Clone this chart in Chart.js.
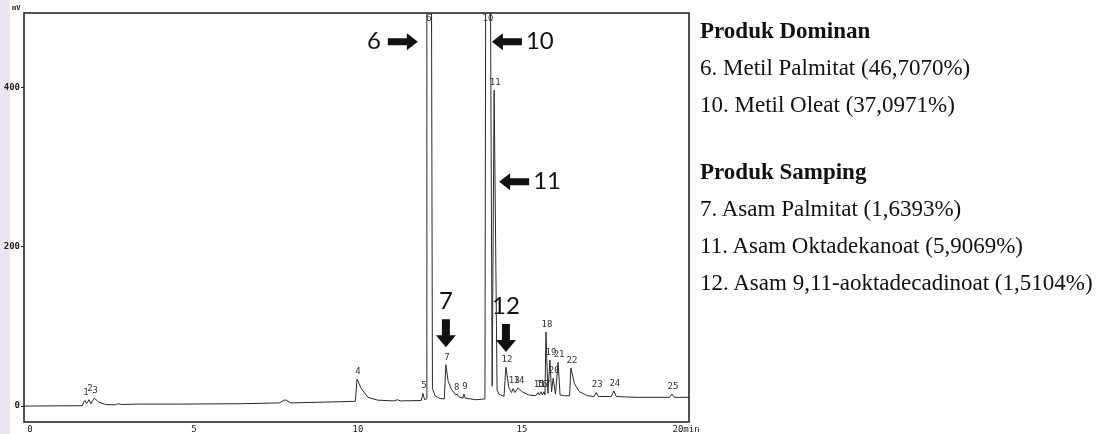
<!DOCTYPE html>
<html>
<head>
<meta charset="utf-8">
<script src="https://cdn.jsdelivr.net/npm/chart.js@4.4.1/dist/chart.umd.min.js"></script>
<style>
    html, body { margin: 0; padding: 0; background: #fff; }
    body { width: 1107px; height: 434px; position: relative; overflow: hidden; }
    #strip { position: absolute; left: 0; top: 0; width: 10px; height: 434px; background: #ebe5f0; }
    #chart-box { position: absolute; left: 0; top: 0; width: 705px; height: 434px; }
    #legend-text {
        position: absolute; left: 700px; top: 12px;
        font-family: "Liberation Serif", "DejaVu Serif", serif;
        font-size: 23px; line-height: 37px; color: #111; white-space: nowrap;
    }
    #legend-text b { font-weight: bold; }
    #legend-text .gap { height: 30px; }
</style>
</head>
<body>
<div id="strip"></div>
<div id="chart-box"><canvas id="gcChart"></canvas></div>
<div id="legend-text">
    <div><b>Produk Dominan</b></div>
    <div>6. Metil Palmitat (46,7070%)</div>
    <div>10. Metil Oleat (37,0971%)</div>
    <div class="gap"></div>
    <div><b>Produk Samping</b></div>
    <div>7. Asam Palmitat (1,6393%)</div>
    <div>11. Asam Oktadekanoat (5,9069%)</div>
    <div>12. Asam 9,11-aoktadecadinoat (1,5104%)</div>
</div>

<script>
// 波形（読み取り値）: 時間 [min] と 信号 [mV]
const traceTime = [
    -0.18, 1.6, 1.64, 1.68, 1.73, 1.8, 1.86, 1.96, 2.1, 2.3, 2.6, 2.68, 2.8, 3.3, 4.5, 6.5, 7.6, 7.78, 7.95, 9.0, 9.92,
    9.97, 10.1, 10.3, 10.6, 11.1, 11.2, 11.3, 11.93,
    11.98, 12.03, 12.08,
    12.1, 12.23, 12.27, 12.35, 12.5, 12.63,
    12.68, 12.75, 12.85, 12.98, 13.02, 13.06, 13.2, 13.23, 13.27, 13.6, 13.87,
    13.9, 14.02, 14.09, 14.15, 14.24, 14.3, 14.45,
    14.51, 14.6, 14.68, 14.73, 14.78, 14.88, 15.0, 15.2, 15.42,
    15.49, 15.53, 15.58, 15.62, 15.67, 15.7,
    15.73, 15.79, 15.85, 15.9, 15.95, 16.02, 16.1, 16.16, 16.3,
    16.45, 16.49, 16.6, 16.75, 17.0, 17.2, 17.26, 17.33, 17.72, 17.8, 17.87, 18.5, 19.5, 19.57, 19.64, 20.09
];
const traceMV = [
    0, 0.5, 5, 7, 3, 8, 3, 10, 5, 2, 1.5, 3, 2, 2.5, 2.5, 3, 4, 8, 4, 5, 6,
    34, 22, 11, 7.5, 6.5, 8, 6.5, 7,
    16, 8, 9,
    700, 700, 22, 13, 9.5, 9,
    52, 31, 21, 14, 15, 12, 10, 15, 10, 8, 9,
    700, 700, 25, 397, 20, 15, 12,
    49, 23, 17, 22, 17, 23, 18, 14, 13,
    17, 14, 18, 14, 18, 14,
    93, 16, 58, 18, 35, 15, 55, 14, 13,
    13, 48, 28, 18, 13, 12, 17, 12, 12, 19, 12, 11, 11, 15, 11, 11
];

// ピーク番号・保持時間・頂点値
const peakIds = ['1', '2', '3', '4', '5', '6', '7', '8', '9', '10', '11', '12', '13', '14', '15', '16', '17', '18', '19', '20', '21', '22', '23', '24', '25'];
const peakTimes = [1.68, 1.8, 1.96, 9.97, 11.98, 12.13, 12.68, 12.98, 13.23, 13.93, 14.15, 14.51, 14.73, 14.88, 15.49, 15.58, 15.67, 15.73, 15.85, 15.95, 16.1, 16.49, 17.26, 17.8, 19.57];
const peakHeights = [7, 12, 10, 34, 16, 700, 52, 14, 15, 700, 397, 49, 22, 23, 17, 18, 18, 93, 58, 35, 55, 48, 17, 19, 15];

// 軸
const xTicks = [0, 5, 10, 15, 20];
const yTicks = [0, 200, 400];

// 注釈（大きい番号と矢印）
const callouts = [
    { text: '6', peak: '6', dir: 'right', value: 458 },
    { text: '10', peak: '10', dir: 'left', value: 458 },
    { text: '11', peak: '11', dir: 'left', value: 282 },
    { text: '7', peak: '7', dir: 'down', value: 74 },
    { text: '12', peak: '12', dir: 'down', value: 68 }
];

const ink = '#2a2a2a';

// 枠・ピーク番号・注釈の描画
const overlayPlugin = {
    id: 'overlay',
    afterDatasetsDraw(chart) {
        const { ctx, chartArea, scales } = chart;
        const xs = scales.x, ys = scales.y;
        ctx.save();

        // 枠
        ctx.strokeStyle = '#1a1a1a';
        ctx.lineWidth = 1.5;
        ctx.strokeRect(chartArea.left, chartArea.top, chartArea.right - chartArea.left, chartArea.bottom - chartArea.top);

        // mV
        ctx.fillStyle = '#222';
        ctx.font = 'bold 7px "DejaVu Sans Mono", monospace';
        ctx.textAlign = 'left';
        ctx.textBaseline = 'bottom';
        ctx.fillText('mV', 12, chartArea.top - 1);

        // ピーク番号
        ctx.font = '9px "DejaVu Sans Mono", monospace';
        ctx.fillStyle = '#333';
        ctx.textAlign = 'center';
        peakIds.forEach((id, i) => {
            const px = xs.getPixelForValue(peakTimes[i]);
            let py = ys.getPixelForValue(peakHeights[i]) - 3;
            if (py < chartArea.top + 10) py = chartArea.top + 10;
            ctx.fillText(id, px + 1, py);
        });

        // 注釈
        ctx.fillStyle = '#111';
        ctx.font = '24px Lato, "Open Sans", sans-serif';
        callouts.forEach(c => {
            const i = peakIds.indexOf(c.peak);
            const px = xs.getPixelForValue(peakTimes[i]);
            const py = ys.getPixelForValue(c.value);
            ctx.beginPath();
            if (c.dir === 'right') {
                const tip = px - 10, tail = tip - 30;
                ctx.moveTo(tail, py - 3.5); ctx.lineTo(tip - 11, py - 3.5); ctx.lineTo(tip - 11, py - 8.5);
                ctx.lineTo(tip, py); ctx.lineTo(tip - 11, py + 8.5); ctx.lineTo(tip - 11, py + 3.5); ctx.lineTo(tail, py + 3.5);
                ctx.closePath(); ctx.fill();
                ctx.textAlign = 'right'; ctx.textBaseline = 'middle';
                ctx.fillText(c.text, tail - 7, py);
            } else if (c.dir === 'left') {
                const tip = px + 5, tail = tip + 30;
                ctx.moveTo(tail, py - 3.5); ctx.lineTo(tip + 11, py - 3.5); ctx.lineTo(tip + 11, py - 8.5);
                ctx.lineTo(tip, py); ctx.lineTo(tip + 11, py + 8.5); ctx.lineTo(tip + 11, py + 3.5); ctx.lineTo(tail, py + 3.5);
                ctx.closePath(); ctx.fill();
                ctx.textAlign = 'left'; ctx.textBaseline = 'middle';
                ctx.fillText(c.text, tail + 4, py);
            } else {
                const tip = py, tail = tip - 28;
                ctx.moveTo(px - 4, tail); ctx.lineTo(px + 4, tail); ctx.lineTo(px + 4, tip - 12); ctx.lineTo(px + 10, tip - 12);
                ctx.lineTo(px, tip); ctx.lineTo(px - 10, tip - 12); ctx.lineTo(px - 4, tip - 12);
                ctx.closePath(); ctx.fill();
                ctx.textAlign = 'center'; ctx.textBaseline = 'alphabetic';
                ctx.fillText(c.text, px, tail - 10);
            }
        });
        ctx.restore();
    }
};

function init() {
    const points = traceTime.map((t, i) => ({ x: t, y: traceMV[i] }));
    const ctx = document.getElementById('gcChart').getContext('2d');
    new Chart(ctx, {
        type: 'line',
        data: {
            datasets: [{
                data: points,
                borderColor: ink,
                borderWidth: 1,
                pointRadius: 0,
                tension: 0,
                fill: false
            }]
        },
        options: {
            responsive: true,
            maintainAspectRatio: false,
            animation: false,
            layout: { padding: { top: 13, right: 16, left: 0, bottom: 0 } },
            plugins: { legend: { display: false }, tooltip: { enabled: false } },
            scales: {
                x: {
                    type: 'linear',
                    min: -0.18,
                    max: 20.09,
                    afterBuildTicks: s => { s.ticks = xTicks.map(v => ({ value: v })); },
                    afterFit: s => { s.height = 12; },
                    grid: { display: false, drawTicks: false },
                    border: { display: false },
                    ticks: {
                        padding: 2,
                        maxRotation: 0,
                        color: '#222',
                        font: { family: '"DejaVu Sans Mono", monospace', size: 9 },
                        callback: v => (v === 20 ? '20min' : v)
                    }
                },
                y: {
                    min: -20,
                    max: 494,
                    afterBuildTicks: s => { s.ticks = yTicks.map(v => ({ value: v })); },
                    afterFit: s => { s.width = 24; },
                    grid: { drawOnChartArea: false, drawTicks: true, tickLength: 3, color: '#222' },
                    border: { display: false },
                    ticks: {
                        padding: 1,
                        color: '#222',
                        font: { family: '"DejaVu Sans Mono", monospace', size: 9, weight: 'bold' }
                    }
                }
            }
        },
        plugins: [overlayPlugin]
    });
}

init();
</script>
</body>
</html>
